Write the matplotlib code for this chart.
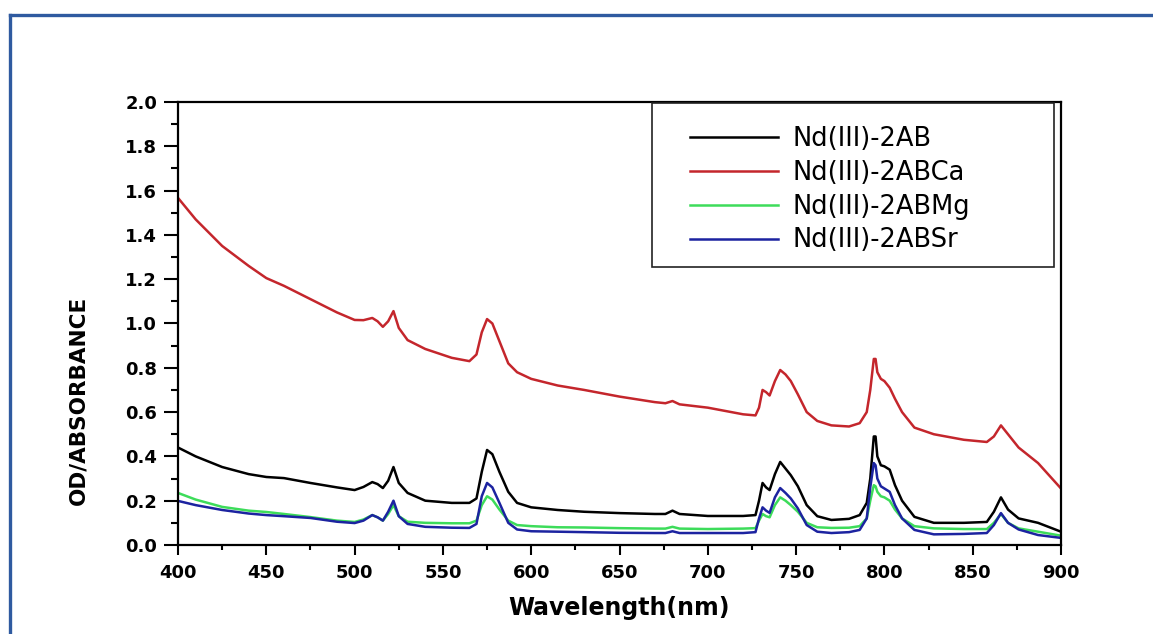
import matplotlib
matplotlib.use("Agg")
import matplotlib.pyplot as plt
from matplotlib.lines import Line2D
from matplotlib.patches import Rectangle
from matplotlib.ticker import MultipleLocator, FormatStrFormatter

# wavelength grid (nm)
wavelength = [400, 410, 425, 440, 450, 460, 475, 490, 500, 505, 510, 513, 516, 519,
              522, 525, 530, 540, 555, 565, 569, 572, 575, 578, 582, 587, 592, 600,
              615, 630, 650, 670, 676, 680, 684, 700, 720, 727, 729, 731, 733, 735,
              738, 741, 744, 747, 751, 756, 762, 770, 780, 786, 790, 792, 794, 795,
              796, 798, 800, 803, 806, 810, 817, 828, 845, 858, 862, 866, 870, 876,
              887, 900]

od_2ab = [0.44, 0.40, 0.352, 0.32, 0.307, 0.302, 0.28, 0.26, 0.248, 0.262, 0.284, 0.275,
          0.257, 0.29, 0.352, 0.28, 0.235, 0.20, 0.19, 0.19, 0.21, 0.33, 0.429, 0.41,
          0.33, 0.24, 0.19, 0.17, 0.158, 0.15, 0.144, 0.14, 0.14, 0.155, 0.14, 0.131,
          0.131, 0.135, 0.20, 0.28, 0.26, 0.248, 0.32, 0.375, 0.345, 0.315, 0.265, 0.18,
          0.13, 0.113, 0.118, 0.135, 0.19, 0.30, 0.49, 0.49, 0.40, 0.36, 0.355, 0.34,
          0.27, 0.20, 0.127, 0.10, 0.10, 0.104, 0.15, 0.215, 0.16, 0.12, 0.10, 0.06]

od_2abca = [1.567, 1.47, 1.35, 1.26, 1.205, 1.17, 1.11, 1.05, 1.016, 1.015, 1.025, 1.01,
            0.985, 1.01, 1.056, 0.98, 0.925, 0.885, 0.845, 0.83, 0.86, 0.96, 1.02, 1.0,
            0.92, 0.82, 0.78, 0.75, 0.72, 0.70, 0.67, 0.645, 0.64, 0.65, 0.635, 0.62,
            0.59, 0.585, 0.62, 0.70, 0.69, 0.675, 0.74, 0.79, 0.77, 0.74, 0.68, 0.60,
            0.56, 0.54, 0.535, 0.55, 0.60, 0.70, 0.84, 0.84, 0.78, 0.75, 0.74, 0.71,
            0.66, 0.60, 0.53, 0.50, 0.475, 0.465, 0.49, 0.54, 0.50, 0.44, 0.37, 0.255]

od_2abmg = [0.235, 0.205, 0.172, 0.155, 0.149, 0.14, 0.126, 0.11, 0.104, 0.115, 0.135,
            0.125, 0.11, 0.14, 0.18, 0.13, 0.105, 0.10, 0.098, 0.098, 0.11, 0.18, 0.22,
            0.205, 0.16, 0.11, 0.09, 0.085, 0.08, 0.079, 0.076, 0.074, 0.074, 0.082,
            0.074, 0.072, 0.074, 0.076, 0.11, 0.14, 0.13, 0.125, 0.18, 0.215, 0.20, 0.18,
            0.15, 0.10, 0.08, 0.077, 0.078, 0.085, 0.12, 0.20, 0.27, 0.265, 0.24, 0.22,
            0.215, 0.20, 0.16, 0.12, 0.085, 0.075, 0.072, 0.072, 0.10, 0.14, 0.10, 0.075,
            0.06, 0.042]

od_2absr = [0.199, 0.18, 0.158, 0.142, 0.135, 0.13, 0.122, 0.105, 0.099, 0.11, 0.135,
            0.125, 0.11, 0.15, 0.20, 0.13, 0.095, 0.082, 0.078, 0.077, 0.095, 0.22, 0.28,
            0.26, 0.19, 0.10, 0.07, 0.062, 0.06, 0.058, 0.055, 0.054, 0.054, 0.062, 0.054,
            0.054, 0.054, 0.058, 0.12, 0.17, 0.155, 0.145, 0.215, 0.257, 0.235, 0.21,
            0.165, 0.09, 0.06, 0.054, 0.058, 0.068, 0.12, 0.26, 0.37, 0.36, 0.30, 0.265,
            0.255, 0.24, 0.18, 0.12, 0.068, 0.048, 0.05, 0.054, 0.09, 0.144, 0.10, 0.07,
            0.045, 0.032]

labels = ["Nd(III)-2AB", "Nd(III)-2ABCa", "Nd(III)-2ABMg", "Nd(III)-2ABSr"]
colors = ["#000000", "#c4262c", "#3ddc5a", "#1c23a0"]

fig = plt.figure(figsize=(11.53, 6.34), dpi=100)
ax = fig.add_axes([0.1544, 0.1404, 0.7658, 0.6987])

for y, lab, col in zip([od_2ab, od_2abca, od_2abmg, od_2absr], labels, colors):
    ax.plot(wavelength, y, color=col, lw=1.8, label=lab)

ax.set_xlim(400, 900)
ax.set_ylim(0, 2.0)
ax.xaxis.set_major_locator(MultipleLocator(50))
ax.xaxis.set_minor_locator(MultipleLocator(25))
ax.yaxis.set_major_locator(MultipleLocator(0.2))
ax.yaxis.set_minor_locator(MultipleLocator(0.1))
ax.yaxis.set_major_formatter(FormatStrFormatter("%.1f"))

for s in ax.spines.values():
    s.set_linewidth(1.6)
ax.tick_params(axis="x", which="major", direction="out", length=7, width=1.5, pad=7)
ax.tick_params(axis="x", which="minor", direction="out", length=3.5, width=1.5)
ax.tick_params(axis="y", which="major", direction="out", length=10, width=1.5, pad=5)
ax.tick_params(axis="y", which="minor", direction="out", length=5, width=1.5)
for t in ax.get_xticklabels() + ax.get_yticklabels():
    t.set_fontweight("bold")
    t.set_fontsize(13)

ax.set_xlabel("Wavelength(nm)", fontsize=17, fontweight="bold")
ax.xaxis.set_label_coords(0.5, -0.115)
ax.set_ylabel("OD/ABSORBANCE", fontsize=15.5, fontweight="bold")
ax.yaxis.set_label_coords(-0.102, 0.327)

# legend box drawn separately so the padding matches
ax.add_patch(Rectangle((0.537, 0.6275), 0.455, 0.3705, transform=ax.transAxes,
                       facecolor="white", edgecolor="#222222", lw=1.2, zorder=4))
leg = ax.legend(loc="upper left", bbox_to_anchor=(0.58, 0.945), frameon=False,
                fontsize=18.5, handlelength=3.43, handletextpad=0.55,
                labelspacing=0.3, borderpad=0, borderaxespad=0)
leg.set_zorder(5)
for h in leg.get_lines():
    h.set_linewidth(1.8)

# blue frame around the figure (top and left edges visible)
bx = 10 / 1153
by = 1 - 15 / 634
fig.add_artist(Line2D([bx, bx], [0, by], transform=fig.transFigure, color="#2f5aa0", lw=2.4))
fig.add_artist(Line2D([bx, 1], [by, by], transform=fig.transFigure, color="#2f5aa0", lw=2.4))

fig.savefig("out.png", dpi=100)
